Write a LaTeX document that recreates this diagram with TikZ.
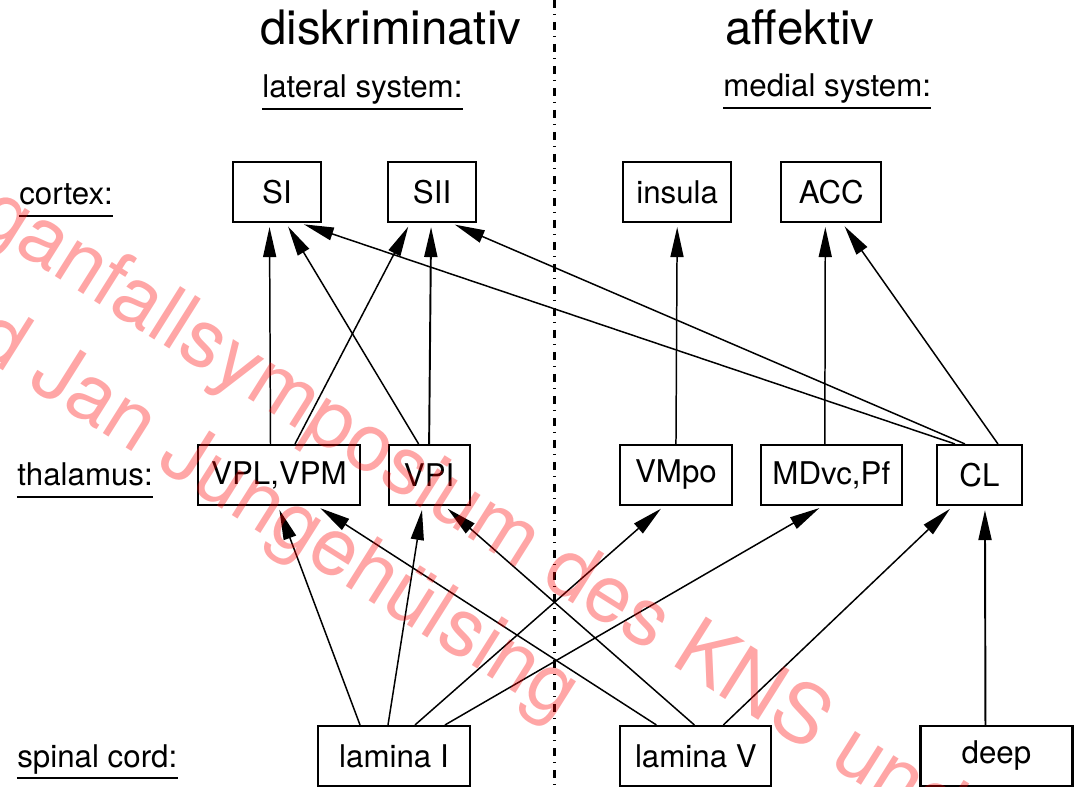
\documentclass[tikz,border=0pt]{standalone}
\usepackage{fontspec}
\setmainfont{TeX Gyre Heros}
\usetikzlibrary{positioning,arrows.meta}

\begin{document}
\begin{tikzpicture}[node distance=0.6cm, font=\fontsize{17.8}{21}\selectfont,
  box/.style={draw,line width=1.2pt,minimum height=1.2cm,inner sep=0pt},
  lbl/.style={inner sep=0pt,text depth=0.21cm,anchor=base west},
  arr/.style={-{Triangle[length=0.6cm,width=0.26cm]},line width=0.85pt,shorten >=0.08cm}]
\useasboundingbox (0,0) rectangle (21.64,-15.74);
\clip (0,0) rectangle (21.64,-15.74);

% dividing line between the two systems
\coordinate (top) at (11.09,0);
\coordinate (bot) at (11.09,-15.74);
\draw[line width=1.3pt,dash pattern=on 0.16cm off 0.12cm on 0.02cm off 0.14cm] (top) -- (bot);

% headings and level labels
\node[lbl,font=\fontsize{27}{32}\selectfont] (disk) at (5.2,-0.9) {diskriminativ};
\node[lbl,font=\fontsize{27}{32}\selectfont] (affk) at (14.5,-0.9) {affektiv};
\node[lbl] (lat) at (5.24,-1.96) {lateral system:};
\node[lbl] (med) at (14.46,-1.94) {medial system:};
\node[lbl] (ctx) at (0.38,-4.1) {cortex:};
\node[lbl] (tha) at (0.34,-9.72) {thalamus:};
\node[lbl] (spc) at (0.34,-15.34) {spinal cord:};
\foreach \n in {lat,med,ctx,tha,spc}
  \draw[line width=1.2pt] (\n.south west) -- (\n.south east);

% cortex
\node[box,minimum width=1.76cm] (si) at (5.54,-3.84) {SI};
\node[box,minimum width=1.76cm,right=1.30cm of si] (sii) {SII};
\node[box,minimum width=2.16cm,right=2.90cm of sii] (ins) {insula};
\node[box,minimum width=2.0cm,right=0.96cm of ins] (acc) {ACC};

% thalamus
\node[box,minimum width=3.24cm] (vpl) at (5.58,-9.5) {VPL,VPM};
\node[box,minimum width=1.62cm,right=0.53cm of vpl] (vpi) {VPI};
\node[box,minimum width=2.23cm,right=2.97cm of vpi] (vmpo) {VMpo};
\node[box,minimum width=2.82cm,right=0.54cm of vmpo] (mdvc) {MDvc,Pf};
\node[box,minimum width=1.70cm,right=0.66cm of mdvc] (cl) {CL};

% spinal cord
\node[box,minimum width=3.05cm] (lamI) at (7.88,-15.12) {lamina I};
\node[box,minimum width=3.02cm,right=2.96cm of lamI] (lamV) {lamina V};
\node[box,minimum width=3.04cm,right=2.94cm of lamV] (deep) {deep};

% thalamus -> cortex
\draw[arr] ([xshift=-0.17cm]vpl.north) -- ([xshift=-0.15cm]si.south);
\draw[arr] ([xshift=0.32cm]vpl.north) -- ([xshift=-0.44cm]sii.south);
\draw[arr] ([xshift=-0.21cm]vpi.north) -- ([xshift=0.18cm]si.south);
\draw[arr,line width=1.1pt] (vpi.north) -- ([xshift=-0.02cm]sii.south);
\draw[arr] ([xshift=-0.49cm]cl.north) -- ([xshift=0.46cm]si.south);
\draw[arr] ([xshift=-0.29cm]cl.north) -- ([xshift=0.38cm]sii.south);
\draw[arr] ([xshift=0.37cm]cl.north) -- ([xshift=0.22cm]acc.south);
\draw[arr] (vmpo.north) -- (ins.south);
\draw[arr] ([xshift=-0.13cm]mdvc.north) -- ([xshift=-0.12cm]acc.south);

% spinal cord -> thalamus
\draw[arr] ([xshift=-0.68cm]lamI.north) -- ([xshift=-0.02cm]vpl.south);
\draw[arr] ([xshift=-0.12cm]lamI.north) -- ([xshift=-0.13cm]vpi.south);
\draw[arr] ([xshift=0.42cm]lamI.north) -- ([xshift=-0.24cm]vmpo.south);
\draw[arr] ([xshift=1.02cm]lamI.north) -- ([xshift=-0.17cm]mdvc.south);
\draw[arr] ([xshift=-0.79cm]lamV.north) -- ([xshift=0.76cm]vpl.south);
\draw[arr] ([xshift=-0.03cm]lamV.north) -- ([xshift=0.31cm]vpi.south);
\draw[arr] ([xshift=0.55cm]lamV.north) -- ([xshift=-0.53cm]cl.south);
\draw[arr,line width=1.1pt] ([xshift=-0.22cm]deep.north) -- ([xshift=0.11cm]cl.south);

% watermark
\begin{scope}[text=red,opacity=0.35,font=\fontsize{46}{55}\selectfont]
\node[anchor=base west,inner sep=0pt,rotate=-32.2] (wm1) at (-0.52,-4.52) {ganfallsymposium des KNS und};
\node[anchor=base west,inner sep=0pt,rotate=-32.2] (wm2) at (-0.62,-6.98) {d Jan Jungehülsing};
\end{scope}
\end{tikzpicture}
\end{document}
